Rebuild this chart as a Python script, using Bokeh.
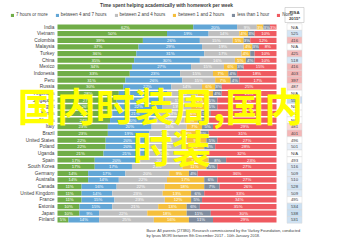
from bokeh.plotting import figure
from bokeh.models import Range1d, ColumnDataSource, Legend, LegendItem
from bokeh.core.properties import value
from bokeh.embed import file_html
from bokeh.resources import INLINE

title = "Time spent helping academically with homework per week"
series_names = ["7 hours or more", "between 4 and 7 hours", "between 2 and 4 hours",
                "between 1 and 2 hours", "less than 1 hour", "None"]
countries = ["India", "Vietnam", "Colombia", "Malaysia", "Turkey", "China", "Mexico",
             "Indonesia", "Peru", "Russia", "Argentina", "Singapore", "Egypt", "Kenya",
             "Nigeria", "Italy", "Brazil", "United States", "Poland", "Uganda", "Spain",
             "South Korea", "Germany", "Australia", "Canada", "United Kingdom", "France",
             "Estonia", "Japan", "Finland"]
seven_plus = [62, 50, 39, 37, 36, 35, 34, 33, 31, 30, 28, 27, 26, 25, 24, 23, 23, 22, 22, 21,
              17, 17, 14, 14, 11, 11, 11, 10, 10, 5]
four_to_seven = [20, 19, 26, 29, 31, 30, 27, 23, 26, 22, 22, 22, 22, 21, 20, 20, 19, 20, 20, 21,
                 20, 17, 17, 14, 16, 14, 15, 15, 9, 14]
two_to_four = [9, 14, 15, 19, 17, 16, 15, 15, 15, 14, 14, 13, 13, 13, 14, 16, 14, 17, 16, 14,
               20, 23, 20, 22, 22, 23, 23, 21, 22, 25]
one_to_two = [3, 4, 5, 4, 4, 5, 6, 7, 7, 6, 7, 6, 7, 6, 6, 7, 8, 9, 9, 8,
              12, 11, 9, 17, 18, 13, 12, 13, 18, 16]
under_one = [3, 3, 3, 3, 2, 4, 3, 4, 4, 3, 4, 5, 5, 5, 5, 5, 5, 5, 5, 4,
             8, 5, 4, 6, 7, 6, 5, 6, 11, 11]
none_at_all = [3, 10, 12, 8, 10, 10, 15, 18, 17, 25, 25, 27, 27, 30, 31, 29, 31, 27, 28, 32,
               23, 27, 36, 27, 26, 33, 34, 35, 30, 29]
pisa_scores = [None, 525, 416, None, 425, 518, 416, 403, 397, 487, None, 556, None, None, None,
               481, 401, 496, 501, None, 493, 516, 509, 510, 528, 509, 495, 534, 538, 531]
pisa_header = ["PISA", "2015*"]
footnote = ["Base: All parents (27380). Research commissioned by the Varkey Foundation, conducted",
            "by Ipsos MORI between 8th December 2017 - 10th January 2018."]
watermark = ["国内时装周,国内", "时装"]

colors = ["#70AD47", "#62A6D6", "#BFBFBF", "#F5BF3C", "#7F8C9E", "#EF5A60"]
keys = ["s0", "s1", "s2", "s3", "s4", "s5"]
series = [seven_plus, four_to_seven, two_to_four, one_to_two, under_one, none_at_all]

W, H = 344, 240
X0, PXW = 57.0, 2.19          # pixel of 0 %, pixels per percent
Y0, PXH = 26.5, 6.65          # pixel of first row centre, pixels per row


def px2x(px):
    return (px - X0) / PXW


def px2y(py):
    return (py - Y0) / PXH


p = figure(width=W, height=H, output_backend="svg", toolbar_location=None,
           x_range=Range1d(px2x(0), px2x(W)), y_range=Range1d(px2y(H), px2y(0)),
           x_axis_location=None, y_axis_location=None, min_border=0,
           outline_line_color=None, background_fill_color="white")
p.xgrid.visible = False
p.ygrid.visible = False

rows = list(range(len(countries)))
data = {"row": rows}
for k, s in zip(keys, series):
    data[k] = s
src = ColumnDataSource(data)
rends = p.hbar_stack(keys, y="row", height=0.78, color=colors, source=src, line_color=None)

# segment labels
lx, ly, lt = [], [], []
for i in rows:
    cum = 0
    for s in series:
        v = s[i]
        if v >= 3:
            lx.append(cum + v / 2)
            ly.append(i)
            lt.append(f"{v}%")
        cum += v
p.text(x=lx, y=ly, text=lt, text_align="center", text_baseline="middle",
       text_font=value("Liberation Sans"), text_font_size="4.3px", text_color="white")

# country labels
p.text(x=[px2x(54)] * len(countries), y=rows, text=countries, text_align="right",
       text_baseline="middle", text_font=value("Liberation Sans"), text_font_size="4.8px",
       text_color="#404040")

# PISA column
def pisa_color(v):
    if v is None:
        return "#FFFFFF"
    if v >= 500:
        t = min((v - 500) / 50, 1)
        return "#%02x%02x%02x" % (int(232 - 40 * t), int(240 - 22 * t), int(250 - 10 * t))
    if v >= 490:
        return "#FFFFFF"
    t = min((490 - v) / 80, 1)
    return "#%02x%02x%02x" % (int(250 - 6 * t), int(222 - 40 * t), int(222 - 40 * t))

pc = [pisa_color(v) for v in pisa_scores]
pt = ["N/A" if v is None else str(v) for v in pisa_scores]
cx = px2x(294)
p.rect(x=[cx] * len(rows), y=rows, width=15 / PXW, height=1, fill_color=pc,
       line_color="#D9D9D9", line_width=0.5)
p.text(x=[cx] * len(rows), y=rows, text=pt, text_align="center", text_baseline="middle",
       text_font=value("Liberation Sans"), text_font_size="4.3px", text_color="#404040")
p.rect(x=[cx], y=[px2y(14.5)], width=19 / PXW, height=15 / PXH, fill_color="white",
       line_color="#BFBFBF", line_width=0.6)
p.text(x=[cx, cx], y=[px2y(11.5), px2y(17.5)], text=pisa_header, text_align="center",
       text_baseline="middle", text_font=value("Liberation Sans"), text_font_size="4.3px",
       text_font_style="bold", text_color="#404040")

# title
p.text(x=[px2x(166)], y=[px2y(5)], text=[title], text_align="center", text_baseline="middle",
       text_font=value("Liberation Sans"), text_font_size="4.8px", text_font_style="bold",
       text_color="#404040")

# footnote
p.text(x=[px2x(146)] * 2, y=[px2y(229.5), px2y(235)], text=footnote, text_align="left",
       text_baseline="middle", text_font=value("Liberation Sans"), text_font_size="3.9px",
       text_color="#404040")

# legend
legend = Legend(items=[LegendItem(label=n, renderers=[r]) for n, r in zip(series_names, rends)],
                orientation="horizontal", location=(10, H - 17), glyph_width=4, glyph_height=4,
                label_height=4, label_width=4, label_standoff=2, spacing=7, padding=0, margin=0,
                label_text_font="Liberation Sans", label_text_font_size="4.5px",
                label_text_color="#404040", border_line_color=None, background_fill_alpha=0)
p.add_layout(legend, "center")

# watermark overlay
p.text(x=[px2x(160), px2x(171.5)], y=[px2y(103), px2y(145)], text=watermark,
       text_align="center", text_baseline="middle", text_font=value("Noto Sans CJK SC"),
       text_font_size="39px", text_font_style="bold", text_color="#FFFF00")

open("out.html", "w").write(file_html(p, INLINE))
